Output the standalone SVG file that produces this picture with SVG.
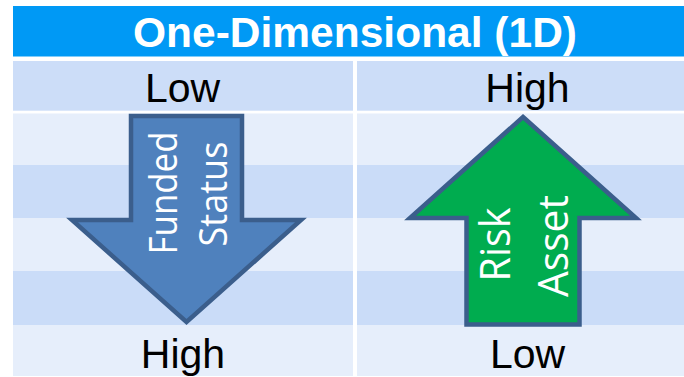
<svg xmlns="http://www.w3.org/2000/svg" width="684" height="377" viewBox="0 0 684 377">
  <style>
    .hdr { fill: #0099F5; }
    .row1 { fill: #CCDDF8; }
    .rowA { fill: #E6EEFB; }
    .rowB { fill: #CADCF8; }
    .title { font-family: "Liberation Sans", Arial, sans-serif; font-weight: bold; font-size: 42px; fill: #FFFFFF; text-anchor: middle; }
    .lbl { font-family: "Liberation Sans", Arial, sans-serif; font-size: 41px; fill: #000000; text-anchor: middle; }
    .arrow { stroke: #3B5E8C; stroke-width: 4.5; stroke-linejoin: miter; }
    .atext { font-family: "Open Sans", "Noto Sans", sans-serif; fill: #FFFFFF; text-anchor: middle; }
  </style>

  <rect width="684" height="377" fill="#FFFFFF"/>

  <!-- table background -->
  <g id="table">
    <rect class="hdr" x="13" y="6" width="690" height="50.5"/>
    <rect class="row1" x="13" y="61" width="340" height="49.7"/>
    <rect class="row1" x="357" y="61" width="346" height="49.7"/>
    <rect class="rowA" x="13" y="113.5" width="340" height="51.5"/>
    <rect class="rowA" x="357" y="113.5" width="346" height="51.5"/>
    <rect class="rowB" x="13" y="165" width="340" height="53"/>
    <rect class="rowB" x="357" y="165" width="346" height="53"/>
    <rect class="rowA" x="13" y="218" width="340" height="53"/>
    <rect class="rowA" x="357" y="218" width="346" height="53"/>
    <rect class="rowB" x="13" y="271" width="340" height="54"/>
    <rect class="rowB" x="357" y="271" width="346" height="54"/>
    <rect class="rowA" x="13" y="325" width="340" height="51"/>
    <rect class="rowA" x="357" y="325" width="346" height="51"/>
    <text class="title" x="355" y="47" textLength="444" lengthAdjust="spacingAndGlyphs">One-Dimensional (1D)</text>
  </g>

  <g id="labels">
    <text class="lbl" x="182.5" y="101.5">Low</text>
    <text class="lbl" x="527.5" y="101.5">High</text>
    <text class="lbl" x="183" y="368">High</text>
    <text class="lbl" x="527.5" y="368">Low</text>
  </g>

  <!-- downward arrow: funded status -->
  <g id="funded-status">
    <path class="arrow" fill="#4F81BD" d="M131,116 H242 V220 H301 L186.5,322 L72,220 H131 Z"/>
    <text class="atext" font-size="38" transform="translate(177,193) rotate(-90)" textLength="123" lengthAdjust="spacingAndGlyphs">Funded</text>
    <text class="atext" font-size="38" transform="translate(227,194) rotate(-90)" textLength="105" lengthAdjust="spacingAndGlyphs">Status</text>
  </g>

  <!-- upward arrow: risk asset -->
  <g id="risk-asset">
    <path class="arrow" fill="#00AC4F" d="M523,117 L636,218 H579.5 V324.5 H466.5 V218 H410 Z"/>
    <text class="atext" font-size="42" transform="translate(510,244.5) rotate(-90)" textLength="74" lengthAdjust="spacingAndGlyphs">Risk</text>
    <text class="atext" font-size="42" transform="translate(568,246) rotate(-90)" textLength="102" lengthAdjust="spacingAndGlyphs">Asset</text>
  </g>
</svg>
